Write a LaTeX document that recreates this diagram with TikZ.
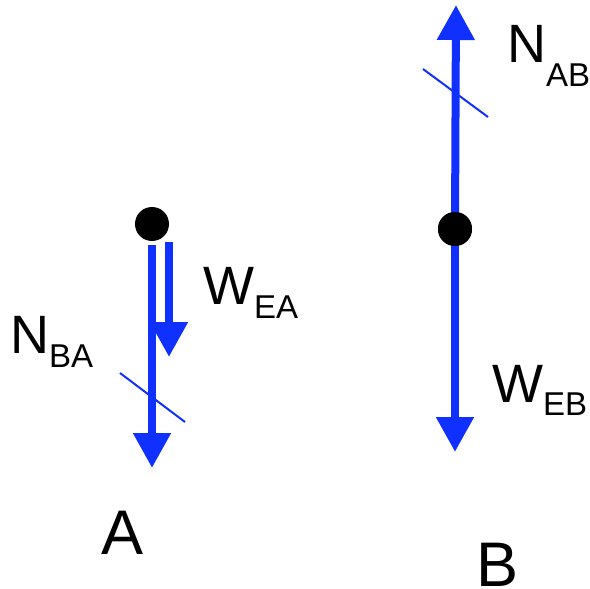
\documentclass[tikz,border=0pt]{standalone}
\usepackage{fontspec}
\setmainfont{Liberation Sans}
\usetikzlibrary{arrows.meta}
\definecolor{fblue}{RGB}{16,48,255}
\newcommand{\lbl}[3]{#1\raisebox{-#3pt}{\fontsize{33}{33}\selectfont #2}}
\begin{document}
\begin{tikzpicture}[x=1pt,y=-1pt,
  force/.style={draw=fblue,line width=8pt,-{Triangle[width=36pt,length=35pt]}},
  tick/.style={draw=fblue,line width=2pt},
  pt/.style={circle,fill=black,inner sep=0pt,minimum size=34pt},
  lab/.style={anchor=base west,inner sep=0pt,font=\fontsize{54}{54}\selectfont},
  big/.style={anchor=base,inner sep=0pt,text depth=0pt,font=\fontsize{63}{63}\selectfont}]
\useasboundingbox (0,0) rectangle (590,589);
% body A
\node[pt] (dotA) at (152,224) {};
\coordinate (nbaS) at (152,245);
\coordinate (nbaE) at (152,468);
\coordinate (weaS) at (169,242);
\coordinate (weaE) at (169,357);
\draw[force] (nbaS) -- (nbaE);
\draw[force] (weaS) -- (weaE);
\coordinate (tA1) at (120,373);
\coordinate (tA2) at (185,422);
\draw[tick] (tA1) -- (tA2);
\node[lab] (lNBA) at (10,353) {\lbl{N}{BA}{14}};
\node[lab] (lWEA) at (203,304) {\lbl{W}{EA}{14}};
\node[big] (lA) at (123,554) {A};
% body B
\node[pt] (dotB) at (455,229) {};
\coordinate (nabE) at (456,5);
\coordinate (webS) at (455,245);
\coordinate (webE) at (455,452);
\draw[force] (dotB.center) -- (nabE);
\draw[force] (webS) -- (webE);
\coordinate (tB1) at (423,69);
\coordinate (tB2) at (488,117);
\draw[tick] (tB1) -- (tB2);
\node[pt] at (dotB) {};
\node[lab] (lNAB) at (507,63) {\lbl{N}{AB}{24}};
\node[lab] (lWEB) at (492,402) {\lbl{W}{EB}{13}};
\node[big] (lB) at (498,586) {B};
\end{tikzpicture}
\end{document}
